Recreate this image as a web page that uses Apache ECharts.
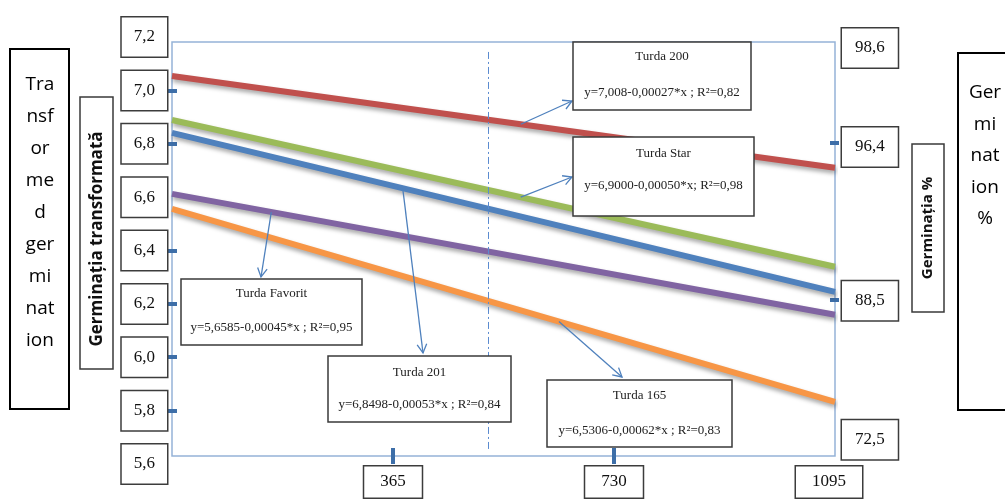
<!DOCTYPE html>
<html><head><meta charset="utf-8">
<script src="https://cdn.jsdelivr.net/npm/echarts@6/dist/echarts.min.js"></script>
<style>html,body{margin:0;padding:0;background:#fff}#c{width:1005px;height:499px}</style>
</head><body><div id="c"></div>
<script>
// ---- data ----
const days = [0, 1095];
const seriesNames = ['Turda 200', 'Turda Star', 'Turda 201', 'Turda Favorit', 'Turda 165'];
const turda200 = [7.054, 6.710];
const turdaStar = [6.889, 6.339];
const turda201 = [6.841, 6.245];
const turdaFavorit = [6.612, 6.159];
const turda165 = [6.556, 5.833];
const equations = [
  'y=7,008-0,00027*x ; R\u00b2=0,82',
  'y=6,9000-0,00050*x; R\u00b2=0,98',
  'y=6,8498-0,00053*x ; R\u00b2=0,84',
  'y=5,6585-0,00045*x ; R\u00b2=0,95',
  'y=6,5306-0,00062*x ; R\u00b2=0,83'
];
const arrowDays = [576, 576, 381, 164, 639];
const leftTickLabels = [7.2, 7.0, 6.8, 6.6, 6.4, 6.2, 6.0, 5.8, 5.6];
const leftTickMarks = [7.0, 6.8, 6.4, 6.2, 6.0, 5.8];
const bottomTickLabels = [365, 730, 1095];
const bottomTickMarks = [365, 730];
const rightTickLabels = ['98,6', '96,4', '88,5', '72,5'];
const rightTickPositions = [7.159, 6.788, 6.212, 5.691];
const rightTickMarks = [6.803, 6.215];
const dividerDay = 522;
const dividerRange = [7.144, 5.654];

const allSeries = [turda200, turdaStar, turda201, turdaFavorit, turda165];
const colors = ['#c0504d', '#9bbb59', '#4f81bd', '#8064a2', '#f79646'];

const chart = echarts.init(document.getElementById('c'), null, {renderer: 'canvas'});
const tickColor = '#3d6ea8';
const serif = '"Liberation Serif", "Times New Roman", serif';

const option = {
  animation: false,
  grid: [
    {left: 172, right: 170, top: 37, bottom: 35, show: false},
    {left: 172, right: 170, top: 42, bottom: 43, show: true, borderColor: '#95b3d7', borderWidth: 1.5, backgroundColor: 'transparent'}
  ],
  xAxis: [
    {
      type: 'value', gridIndex: 0, min: 0, max: 1095, interval: 365,
      axisLine: {show: false}, splitLine: {show: false},
      axisTick: {show: true, customValues: bottomTickMarks, inside: true, length: 16, lineStyle: {color: tickColor, width: 4}},
      axisLabel: {
        customValues: bottomTickLabels, margin: 9,
        formatter: v => v === 1095 ? '{c|' + v + '}{s|}' : '{b|' + v + '}',
        rich: {
          b: {fontFamily: serif, fontSize: 17, lineHeight: 18, color: '#111', borderColor: '#3c3c3c', borderWidth: 1.5, backgroundColor: '#fff', padding: [7, 16, 7, 16]},
          c: {fontFamily: serif, fontSize: 17, lineHeight: 18, color: '#111', borderColor: '#3c3c3c', borderWidth: 1.5, backgroundColor: '#fff', padding: [7, 16, 7, 16]},
          s: {width: 12}
        }
      }
    },
    {type: 'value', gridIndex: 1, min: 0, max: 1095, show: false}
  ],
  yAxis: [
    {
      type: 'value', gridIndex: 0, min: 5.6, max: 7.2, interval: 0.2, position: 'left', offset: -5,
      axisLine: {show: false}, splitLine: {show: false},
      axisTick: {show: true, customValues: leftTickMarks, inside: false, length: 9, lineStyle: {color: tickColor, width: 4}},
      axisLabel: {
        customValues: leftTickLabels, margin: 10,
        formatter: v => v.toFixed(1).replace('.', ','),
        fontFamily: serif, fontSize: 17, lineHeight: 19, color: '#111',
        borderColor: '#3c3c3c', borderWidth: 1.5, backgroundColor: '#fff', padding: [10, 12, 10, 12]
      }
    },
    {
      type: 'value', gridIndex: 0, min: 5.6, max: 7.2, position: 'right', offset: -5,
      axisLine: {show: false}, splitLine: {show: false},
      axisTick: {show: true, customValues: rightTickMarks, inside: false, length: 9, lineStyle: {color: tickColor, width: 4}},
      axisLabel: {
        customValues: rightTickPositions, margin: 12,
        formatter: v => {
          const i = rightTickPositions.findIndex(p => Math.abs(p - v) < 1e-6);
          return i >= 0 ? rightTickLabels[i] : '';
        },
        fontFamily: serif, fontSize: 17, lineHeight: 19, color: '#111',
        borderColor: '#3c3c3c', borderWidth: 1.5, backgroundColor: '#fff', padding: [10, 13, 10, 13]
      }
    },
    {type: 'value', gridIndex: 1, min: 5.6, max: 7.2, show: false}
  ],
  series: allSeries.map((vals, i) => ({
    name: seriesNames[i], type: 'line', xAxisIndex: 0, yAxisIndex: 0,
    data: days.map((d, k) => [d, vals[k]]),
    showSymbol: false, symbol: 'none', silent: true,
    lineStyle: {color: colors[i], width: 6, shadowColor: 'rgba(0,0,0,0.35)', shadowBlur: 4, shadowOffsetX: 1, shadowOffsetY: 3},
    markLine: i === 0 ? {
      silent: true, symbol: 'none', label: {show: false},
      lineStyle: {color: '#5b8bd0', width: 1, type: [7, 3, 2, 3]},
      data: [[{coord: [dividerDay, dividerRange[0]]}, {coord: [dividerDay, dividerRange[1]]}]]
    } : undefined
  }))
};
chart.setOption(option);

// ---- annotations ----
const boxes = [
  {x: 573, y: 42, w: 178, h: 68, ty: 57, ey: 93, end: [572, 101]},
  {x: 573, y: 137, w: 181, h: 79, ty: 154, ey: 186, end: [572, 177]},
  {x: 328, y: 356, w: 183, h: 66, ty: 373, ey: 405, end: [423, 353]},
  {x: 181, y: 279, w: 181, h: 66, ty: 294, ey: 328, end: [261, 277]},
  {x: 547, y: 380, w: 185, h: 67, ty: 396, ey: 431, end: [622, 377]}
];
const g = [];
const arrowColor = '#4f81bd';
boxes.forEach((b, i) => {
  const vals = allSeries[i];
  const d = arrowDays[i];
  const v = vals[0] + (vals[1] - vals[0]) * (d - days[0]) / (days[1] - days[0]);
  const p = chart.convertToPixel({xAxisIndex: 0, yAxisIndex: 0}, [d, v]);
  const e = b.end;
  const ang = Math.atan2(e[1] - p[1], e[0] - p[0]);
  const L = 10, a = 0.5;
  g.push({type: 'line', z: 100, shape: {x1: p[0], y1: p[1], x2: e[0], y2: e[1]}, style: {stroke: arrowColor, lineWidth: 1.3}});
  g.push({type: 'polyline', z: 100, shape: {points: [
    [e[0] - L * Math.cos(ang - a), e[1] - L * Math.sin(ang - a)], e,
    [e[0] - L * Math.cos(ang + a), e[1] - L * Math.sin(ang + a)]]}, style: {stroke: arrowColor, lineWidth: 1.3, fill: null}});
});
boxes.forEach((b, i) => {
  g.push({type: 'rect', z: 101, shape: {x: b.x, y: b.y, width: b.w, height: b.h}, style: {fill: '#fff', stroke: '#3a3a3a', lineWidth: 1.5}});
  g.push({type: 'text', z: 102, x: b.x + b.w / 2, y: b.ty, style: {text: seriesNames[i], font: '13px ' + serif, fill: '#222', align: 'center', verticalAlign: 'middle'}});
  g.push({type: 'text', z: 102, x: b.x + b.w / 2, y: b.ey, style: {text: equations[i], font: '13px ' + serif, fill: '#222', align: 'center', verticalAlign: 'middle'}});
});
// outer boxes
g.push({type: 'rect', z: 101, shape: {x: 10, y: 49, width: 59, height: 360}, style: {fill: '#fff', stroke: '#000', lineWidth: 2}});
g.push({type: 'text', z: 102, x: 40, y: 69, style: {text: 'Tra\nnsf\nor\nme\nd\nger\nmi\nnat\nion', font: '19px "Open Sans", sans-serif', lineHeight: 32, fill: '#000', align: 'center', verticalAlign: 'top'}});
g.push({type: 'rect', z: 101, shape: {x: 958, y: 53, width: 60, height: 357}, style: {fill: '#fff', stroke: '#000', lineWidth: 2}});
g.push({type: 'text', z: 102, x: 985, y: 77, style: {text: 'Ger\nmi\nnat\nion\n%', font: '19px "Open Sans", sans-serif', lineHeight: 31.5, fill: '#000', align: 'center', verticalAlign: 'top'}});
// axis name boxes
g.push({type: 'rect', z: 101, shape: {x: 80, y: 97, width: 33, height: 272}, style: {fill: '#fff', stroke: '#3a3a3a', lineWidth: 1.5}});
g.push({type: 'text', z: 102, x: 97, y: 239, rotation: Math.PI / 2, style: {text: 'Germinația transformată', font: 'bold 17px "Open Sans", sans-serif', fill: '#111', align: 'center', verticalAlign: 'middle'}});
g.push({type: 'rect', z: 101, shape: {x: 912, y: 144, width: 32, height: 168}, style: {fill: '#fff', stroke: '#3a3a3a', lineWidth: 1.5}});
g.push({type: 'text', z: 102, x: 928, y: 228, rotation: Math.PI / 2, style: {text: 'Germinația %', font: 'bold 15px "Open Sans", sans-serif', fill: '#111', align: 'center', verticalAlign: 'middle'}});

chart.setOption({graphic: g});
</script>
</body></html>
